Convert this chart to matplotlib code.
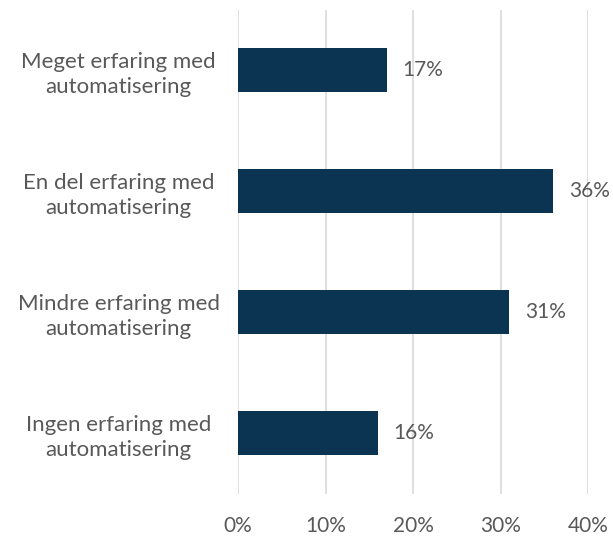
import matplotlib
matplotlib.use("Agg")
import matplotlib.pyplot as plt
import numpy as np

plt.rcParams['font.family'] = ['Lato', 'DejaVu Sans']

categories = ["Meget erfaring med\nautomatisering",
              "En del erfaring med\nautomatisering",
              "Mindre erfaring med\nautomatisering",
              "Ingen erfaring med\nautomatisering"]
values = [17, 36, 31, 16]
ticks = [0, 10, 20, 30, 40]
tick_labels = ["0%", "10%", "20%", "30%", "40%"]

bar_color = "#0B3352"
text_color = "#595959"

fig = plt.figure(figsize=(6.13, 5.36), dpi=100)
ax = fig.add_axes([238/613, 1-493.5/536, 350/613, 484/536])

y = np.arange(len(categories))
ax.barh(y, values, height=0.36, color=bar_color, zorder=3)
for yi, v in zip(y, values):
    ax.text(v + 1.8, yi, "%d%%" % v, va="center", ha="left",
            fontsize=15, color=text_color)

ax.set_xlim(0, 40)
ax.set_ylim(len(categories) - 0.5, -0.5)
ax.set_xticks(ticks)
ax.set_xticklabels(tick_labels, fontsize=15, color=text_color)
ax.set_yticks(y)
ax.set_yticklabels(categories, fontsize=16, color=text_color, ha="center",
                   linespacing=1.3)
ax.tick_params(axis="y", length=0, pad=86)
ax.tick_params(axis="x", length=0, pad=16)
ax.grid(axis="x", color="#D9D9D9", linewidth=1.2, zorder=0)
for s in ax.spines.values():
    s.set_visible(False)

fig.savefig("out.png", dpi=100)
